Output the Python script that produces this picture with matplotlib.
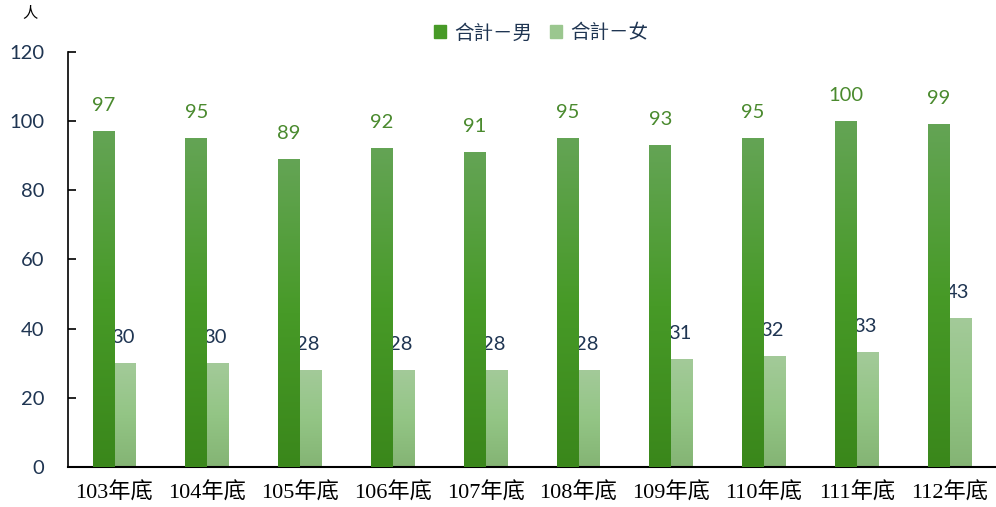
import numpy as np
import matplotlib.pyplot as plt
from matplotlib.colors import LinearSegmentedColormap
from matplotlib.patches import Patch

plt.rcParams['font.family'] = ['Lato', 'Noto Sans CJK TC', 'DejaVu Sans']

years = ['103年底', '104年底', '105年底', '106年底', '107年底',
         '108年底', '109年底', '110年底', '111年底', '112年底']
male = [97, 95, 89, 92, 91, 95, 93, 95, 100, 99]
female = [30, 30, 28, 28, 28, 28, 31, 32, 33, 43]

navy = '#1f3552'
green_lbl = '#4a8a2e'
cm_m = LinearSegmentedColormap.from_list('m', ['#3a871b', '#479a27', '#64a455'])
cm_f = LinearSegmentedColormap.from_list('f', ['#84b474', '#93c585', '#a3ca99'])

fig = plt.figure(figsize=(9.96, 5.07), dpi=100)
ax = fig.add_axes([0.0683, 0.079, 0.9317, 0.8185])

x = np.arange(len(years))
w = 0.235
grad = np.linspace(0, 1, 256).reshape(-1, 1)

def grad_bars(xs, vals, cmap, z):
    bars = ax.bar(xs, vals, w, color='none', zorder=z)
    for b in bars:
        x0, y0 = b.get_x(), b.get_y()
        ax.imshow(grad, cmap=cmap, origin='lower', aspect='auto',
                  extent=[x0, x0 + b.get_width(), y0, y0 + b.get_height()],
                  zorder=z)
    return bars

grad_bars(x - w / 2, male, cm_m, 3)
grad_bars(x + w / 2, female, cm_f, 2)

for i in range(len(years)):
    ax.text(x[i] - w / 2, male[i] + 7.5, str(male[i]), ha='center', va='center',
            fontsize=14.5, color=green_lbl, zorder=4)
    ax.text(x[i] + w / 2 - 0.03, female[i] + 7.5, str(female[i]), ha='center', va='center',
            fontsize=14.5, color=navy, zorder=1)

ax.set_xlim(-0.5, len(years) - 0.5)
ax.set_ylim(0, 120)
ax.set_yticks(range(0, 121, 20))
ax.set_xticks(x)
ax.set_xticklabels(years, family=['Liberation Serif', 'Noto Sans CJK TC'], fontsize=16, color='black')
ax.tick_params(axis='y', direction='in', length=6, width=1.2, pad=17, labelsize=14.5, labelcolor=navy)
ax.tick_params(axis='x', length=0, pad=11)
for s in ['top', 'right']:
    ax.spines[s].set_visible(False)
ax.spines['left'].set_linewidth(1.2)
ax.spines['bottom'].set_linewidth(1.5)

fig.text(0.03, 0.975, '人', fontsize=11, color='black', ha='center', va='center',
         family=['Noto Sans CJK TC'])

handles = [Patch(color='#479a27', label='合計－男'), Patch(color='#9bc78f', label='合計－女')]
fig.legend(handles=handles, loc='center', bbox_to_anchor=(0.543, 0.935), ncol=2,
           frameon=False, handlelength=0.65, handleheight=0.65,
           handletextpad=0.4, columnspacing=0.9, labelcolor=navy,
           prop={'family': ['Noto Sans CJK TC'], 'size': 14})

fig.savefig('out.png', dpi=100)
